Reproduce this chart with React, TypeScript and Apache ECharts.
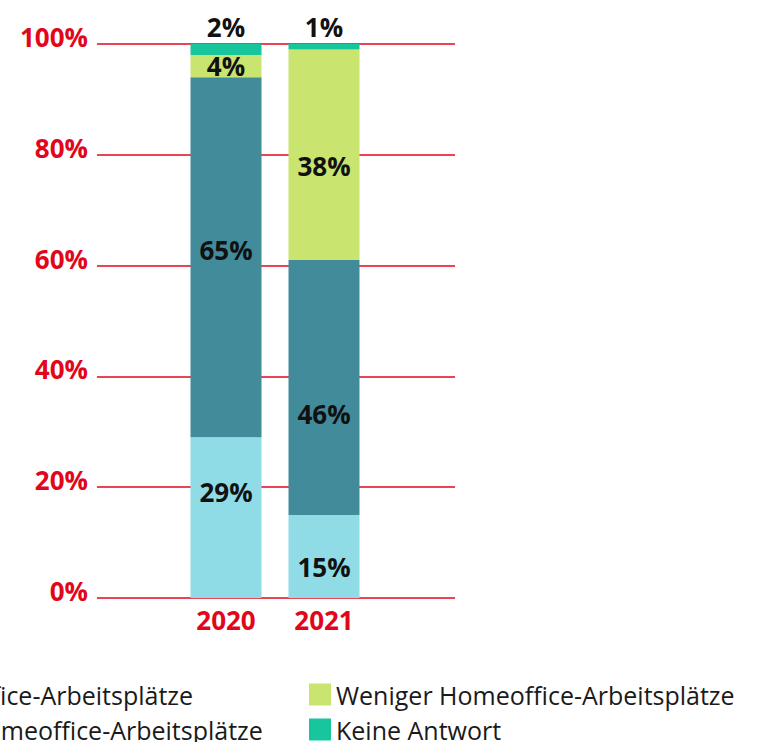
import React, { useEffect, useRef } from "react";
import * as echarts from "echarts";

const years = ["2020", "2021"];
const seriesNames = [
  "Mehr Homeoffice-Arbeitsplätze",
  "Gleich viele Homeoffice-Arbeitsplätze",
  "Weniger Homeoffice-Arbeitsplätze",
  "Keine Antwort",
];
const mehr = [29, 15];
const gleich = [65, 46];
const weniger = [4, 38];
const keine = [2, 1];
const yTicks = [0, 20, 40, 60, 80, 100];

// label vertical nudges in pixels (styling only), per series per year
const labelNudge = [
  [-26, 11],
  [-7, 27],
  [0, 11],
  [0, 0],
];

const colors = ["#8fdbe6", "#428b9b", "#c9e46f", "#17c69c"];
const RED = "#e2061b";
const FONT = "'Open Sans', 'Noto Sans', sans-serif";

export default function App() {
  const ref = useRef<HTMLDivElement>(null);
  useEffect(() => {
    document.body.style.margin = "0";
    const chart = echarts.init(ref.current!, null, { renderer: "svg" });
    const values = [mehr, gleich, weniger, keine];
    const series = values.map((d, i) => ({
      name: seriesNames[i],
      type: "bar",
      stack: "total",
      xAxisIndex: 1,
      yAxisIndex: 1,
      barWidth: 71,
      data: d.map((v, j) => ({
        value: v,
        label: { offset: [0, labelNudge[i][j]] },
      })),
      itemStyle: { color: colors[i] },
      label: {
        show: true,
        position: i === 3 ? "top" : "inside",
        distance: 4,
        formatter: "{c}%",
        color: "#111111",
        fontFamily: FONT,
        fontWeight: "bold",
        fontSize: 26,
      },
    }));
    const legendCommon = {
      orient: "vertical",
      top: 682,
      padding: 0,
      itemWidth: 22,
      itemHeight: 22,
      itemGap: 10,
      icon: "rect",
      selectedMode: false,
      textStyle: { fontFamily: FONT, fontSize: 25, color: "#1a1a1a", lineHeight: 22 },
    };
    chart.setOption({
      animation: false,
      textStyle: { fontFamily: FONT },
      grid: [
        { left: 97, right: 305, top: 44, bottom: 144 },
        { left: 177, right: 387, top: 44, bottom: 144 },
      ],
      xAxis: [
        { gridIndex: 0, type: "value", show: false, min: 0, max: 1 },
        {
          gridIndex: 1,
          type: "category",
          data: years,
          axisLine: { show: false },
          axisTick: { show: false },
          axisLabel: {
            color: RED,
            fontFamily: FONT,
            fontWeight: "bold",
            fontSize: 26,
            margin: 9,
          },
        },
      ],
      yAxis: [
        {
          gridIndex: 0,
          type: "value",
          min: yTicks[0],
          max: yTicks[yTicks.length - 1],
          interval: 20,
          axisLine: { show: false },
          axisTick: { show: false },
          axisLabel: {
            formatter: "{value}%",
            color: RED,
            fontFamily: FONT,
            fontWeight: "bold",
            fontSize: 26,
            margin: 9,
            verticalAlign: "bottom",
            lineHeight: 14,
          },
          splitLine: { lineStyle: { color: RED, width: 1.5 } },
        },
        { gridIndex: 1, type: "value", min: 0, max: 100, show: false },
      ],
      legend: [
        { ...legendCommon, left: -198, data: [seriesNames[0], seriesNames[1]] },
        { ...legendCommon, left: 309, data: [seriesNames[2], seriesNames[3]] },
      ],
      series,
    });
    return () => chart.dispose();
  }, []);
  return <div ref={ref} style={{ width: 760, height: 742 }} />;
}
